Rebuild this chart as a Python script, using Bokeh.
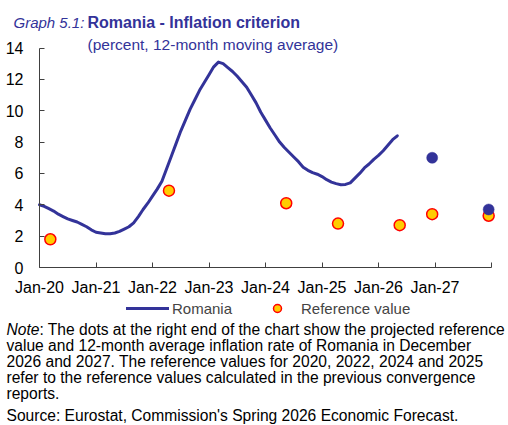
from bokeh.plotting import figure
from bokeh.models import Range1d, FixedTicker, Label, Legend, LegendItem, LinearAxis
from bokeh.embed import file_html
from bokeh.resources import INLINE

# ---- data (months since Jan-2020) ----
months = list(range(77))
romania = [4.0, 3.9, 3.75, 3.6, 3.4, 3.25, 3.1, 3.0, 2.9, 2.75, 2.6, 2.4,
           2.25, 2.2, 2.15, 2.15, 2.2, 2.3, 2.45, 2.6, 2.85, 3.25, 3.7, 4.1,
           4.55, 5.0, 5.5, 6.3, 7.1, 7.9, 8.7, 9.4, 10.1, 10.7, 11.3, 11.8,
           12.3, 12.8, 13.1, 13.0, 12.75, 12.5, 12.2, 11.85, 11.5, 11.0, 10.5, 9.9,
           9.4, 8.9, 8.45, 8.0, 7.65, 7.35, 7.05, 6.75, 6.4, 6.2, 6.05, 5.95,
           5.8, 5.6, 5.45, 5.35, 5.28, 5.3, 5.4, 5.7, 6.0, 6.35, 6.6, 6.9,
           7.15, 7.45, 7.8, 8.15, 8.4]
ref_x = [2.3, 27.5, 52.4, 63.4, 76.5, 83.4, 95.4]
ref_val = [1.8, 4.9, 4.1, 2.8, 2.7, 3.4, 3.3]
proj_x = [83.4, 95.4]
proj_val = [7.0, 3.7]
x_ticks = [0, 12, 24, 36, 48, 60, 72, 84, 96]
x_labels = ["Jan-20", "Jan-21", "Jan-22", "Jan-23", "Jan-24", "Jan-25", "Jan-26", "Jan-27", ""]
y_ticks = [0, 2, 4, 6, 8, 10, 12, 14]

BLUE = "#333399"
YEL = "#FFCC00"
RED = "#FF0000"
FONT = "Liberation Sans"
AXC = "#404040"
W, H = 507, 424

# page-pixel geometry of the plotting area
X0, X1 = 39, 491      # x = Jan-20 .. Jan-28
Y0, Y14 = 267, 47.5   # y = 0 .. 14
xs = (X1 - X0) / 96.0
ys = (Y0 - Y14) / 14.0

p = figure(width=W, height=H,
           x_range=Range1d(-X0 / xs, 96 + (W - X1) / xs),
           y_range=Range1d(-(H - Y0) / ys, 14 + Y14 / ys),
           x_axis_type=None, y_axis_type=None, min_border=0,
           output_backend="svg", toolbar_location=None)
p.outline_line_color = None

xax = LinearAxis(fixed_location=0, bounds=(0, 96), ticker=FixedTicker(ticks=x_ticks),
                 major_label_overrides={t: l for t, l in zip(x_ticks, x_labels)},
                 major_label_standoff=11)
yax = LinearAxis(fixed_location=0, bounds=(0, 14), ticker=FixedTicker(ticks=y_ticks),
                 major_label_standoff=16)
for ax in (xax, yax):
    ax.axis_line_color = AXC
    ax.major_tick_line_color = AXC
    ax.major_tick_in = 5
    ax.major_tick_out = 0
    ax.minor_tick_line_color = None
    ax.major_label_text_font = FONT
    ax.major_label_text_font_size = "16px"
    ax.major_label_text_color = "black"
p.add_layout(xax, "below")
p.add_layout(yax, "left")

line_r = p.line(months, romania, line_width=3, color=BLUE, line_join="round", line_cap="round")
ref_r = p.scatter(ref_x, ref_val, size=11, fill_color=YEL, line_color=RED, line_width=1.5)
p.scatter(proj_x, proj_val, size=11, fill_color=BLUE, line_color=BLUE, line_width=0.5)


def leg(label, renderer, x, gw, standoff):
    p.add_layout(Legend(items=[LegendItem(label=label, renderers=[renderer])],
                        location=(x, H - 318), orientation="horizontal",
                        glyph_width=gw, glyph_height=20, label_standoff=standoff,
                        padding=0, margin=0, label_height=20, label_width=0,
                        border_line_color=None, background_fill_alpha=0,
                        label_text_font=FONT, label_text_font_size="15px"))


leg("Romania", line_r, 126, 43, 3)
leg("Reference value", ref_r, 267, 20, 14)


def lab(text, px, py, size, style="normal", color="black"):
    p.add_layout(Label(x=px, y=H - py, x_units="screen", y_units="screen", text=text,
                       text_font=FONT, text_font_size=f"{size}px", text_font_style=style,
                       text_color=color, text_baseline="alphabetic", text_align="left"))


lab("Graph 5.1:", 13, 22, 15, "italic", BLUE)
lab("Romania - Inflation criterion", 87, 22, 16, "bold", BLUE)
lab("(percent, 12-month moving average)", 87, 43.5, 15.5, "normal", BLUE)

NS = 15.6
lab("Note", 6, 328.5, NS, "italic")
lab(": The dots at the right end of the chart show the projected reference", 6 + 2.112 * NS, 328.5, NS)
lab("value and 12-month average inflation rate of Romania in December", 6, 345, NS)
lab("2026 and 2027. The reference values for 2020, 2022, 2024 and 2025", 6, 361, NS)
lab("refer to the reference values calculated in the previous convergence", 6, 377, NS)
lab("reports.", 6, 393, NS)
lab("Source: Eurostat, Commission's Spring 2026 Economic Forecast.", 6, 414.5, NS)

open("out.html", "w").write(file_html(p, INLINE))
